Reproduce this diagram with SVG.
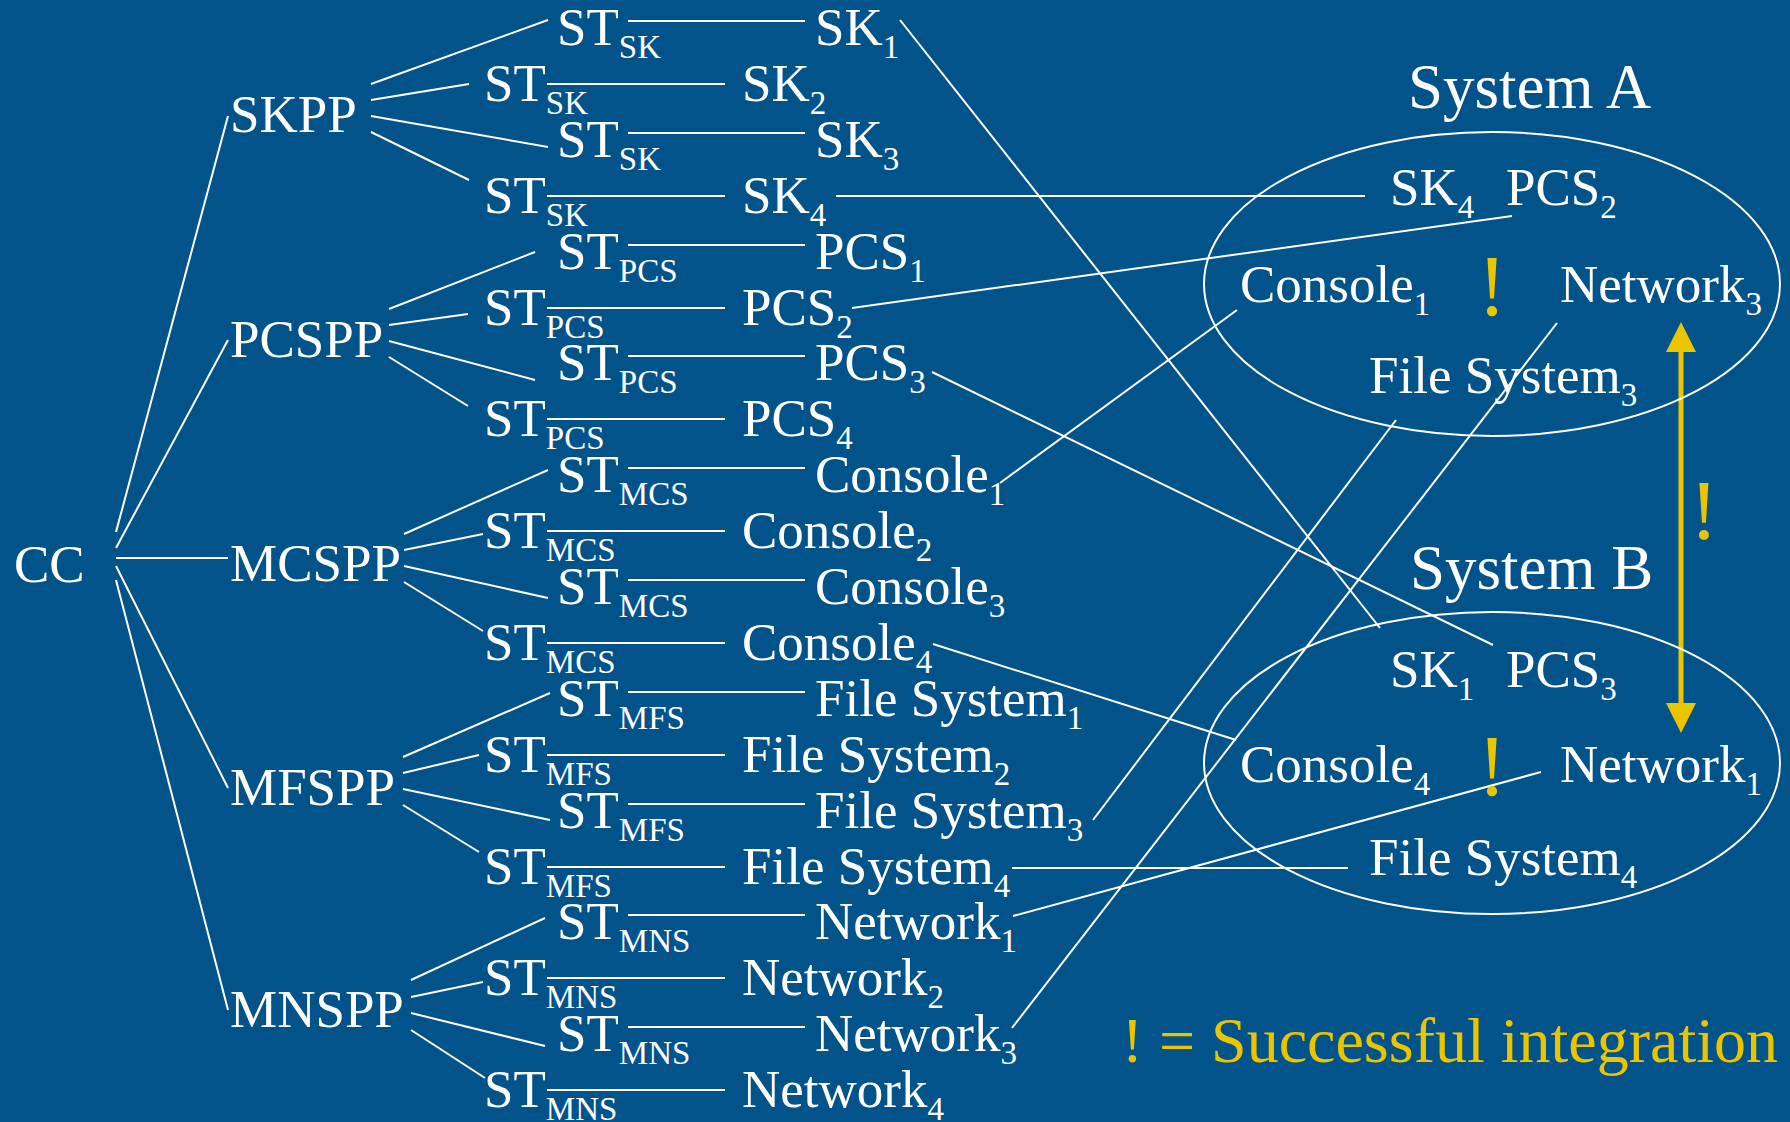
<svg xmlns="http://www.w3.org/2000/svg" width="1790" height="1122" viewBox="0 0 1790 1122">
  <style>
    text { font-family: "Liberation Serif", "Times New Roman", serif; fill: #ffffff; font-size: 53px; }
    .s { font-size: 33px; }
    .title { font-size: 63px; }
    .bang { fill: #ebc400; font-size: 86px; text-anchor: middle; }
    .legend { fill: #ebc400; font-size: 64px; text-anchor: end; }
    .wire { stroke: #ffffff; stroke-width: 2; fill: none; }
    .sys { stroke: #ffffff; stroke-width: 2; fill: none; }
    .gold { stroke: #ebc400; stroke-width: 5; fill: none; }
  </style>
  <defs>
    <marker id="head" viewBox="0 0 30 30" markerUnits="userSpaceOnUse" markerWidth="30" markerHeight="30" refX="2" refY="15" orient="auto-start-reverse">
      <path d="M0,0 L30,15 L0,30 z" fill="#ebc400"/>
    </marker>
  </defs>

  <rect x="0" y="0" width="1790" height="1122" fill="#02538a"/>

  <!-- connectors -->
  <g id="connectors" class="wire">
    <!-- CC to the five PP nodes -->
    <line x1="116" y1="532" x2="228" y2="116"/>
    <line x1="116" y1="548" x2="228" y2="340"/>
    <line x1="116" y1="558" x2="228" y2="558"/>
    <line x1="116" y1="566" x2="228" y2="788"/>
    <line x1="116" y1="580" x2="228" y2="1010"/>
    <!-- SKPP fan -->
    <line x1="371" y1="84" x2="548" y2="20"/>
    <line x1="371" y1="100" x2="469" y2="84"/>
    <line x1="371" y1="116" x2="548" y2="147"/>
    <line x1="371" y1="132" x2="469" y2="180"/>
    <!-- PCSPP fan -->
    <line x1="389" y1="309" x2="535" y2="252"/>
    <line x1="389" y1="325" x2="468" y2="314"/>
    <line x1="389" y1="341" x2="535" y2="380"/>
    <line x1="389" y1="357" x2="468" y2="406"/>
    <!-- MCSPP fan -->
    <line x1="404" y1="534" x2="548" y2="470"/>
    <line x1="404" y1="550" x2="483" y2="534"/>
    <line x1="404" y1="566" x2="548" y2="598"/>
    <line x1="404" y1="582" x2="483" y2="631"/>
    <!-- MFSPP fan -->
    <line x1="403" y1="757" x2="550" y2="693"/>
    <line x1="403" y1="773" x2="479" y2="755"/>
    <line x1="403" y1="789" x2="550" y2="820"/>
    <line x1="403" y1="805" x2="479" y2="852"/>
    <!-- MNSPP fan -->
    <line x1="411" y1="980" x2="545" y2="918"/>
    <line x1="411" y1="997" x2="483" y2="982"/>
    <line x1="411" y1="1013" x2="545" y2="1046"/>
    <line x1="411" y1="1030" x2="485" y2="1078"/>
    <!-- ST to component -->
    <line x1="628" y1="21" x2="805" y2="21"/>
    <line x1="547" y1="84" x2="725" y2="84"/>
    <line x1="628" y1="133" x2="805" y2="133"/>
    <line x1="547" y1="196" x2="725" y2="196"/>
    <line x1="628" y1="245" x2="805" y2="245"/>
    <line x1="547" y1="308" x2="725" y2="308"/>
    <line x1="628" y1="356" x2="805" y2="356"/>
    <line x1="547" y1="419" x2="725" y2="419"/>
    <line x1="628" y1="468" x2="805" y2="468"/>
    <line x1="547" y1="531" x2="725" y2="531"/>
    <line x1="628" y1="580" x2="805" y2="580"/>
    <line x1="547" y1="643" x2="725" y2="643"/>
    <line x1="628" y1="692" x2="805" y2="692"/>
    <line x1="547" y1="755" x2="725" y2="755"/>
    <line x1="628" y1="804" x2="805" y2="804"/>
    <line x1="547" y1="867" x2="725" y2="867"/>
    <line x1="628" y1="915" x2="805" y2="915"/>
    <line x1="547" y1="978" x2="725" y2="978"/>
    <line x1="628" y1="1027" x2="805" y2="1027"/>
    <line x1="547" y1="1090" x2="725" y2="1090"/>
    <!-- components placed into the systems -->
    <line x1="900" y1="20" x2="1380" y2="628"/>
    <line x1="836" y1="196" x2="1365" y2="196"/>
    <line x1="852" y1="308" x2="1512" y2="216"/>
    <line x1="932" y1="372" x2="1493" y2="645"/>
    <line x1="1000" y1="483" x2="1237" y2="310"/>
    <line x1="933" y1="644" x2="1236" y2="740"/>
    <line x1="1093" y1="820" x2="1396" y2="420"/>
    <line x1="1012" y1="868" x2="1348" y2="868"/>
    <line x1="1013" y1="916" x2="1541" y2="772"/>
    <line x1="1012" y1="1028" x2="1557" y2="323"/>
    <!-- integration arrow between the systems -->
    <line class="gold" x1="1681" y1="350" x2="1681" y2="705" marker-start="url(#head)" marker-end="url(#head)"/>
  </g>

  <!-- root -->
  <g id="cc"><text x="14" y="582">CC</text></g>

  <!-- PP nodes -->
  <g id="skpp"><text x="230" y="132">SKPP</text></g>
  <g id="pcspp"><text x="230" y="357">PCSPP</text></g>
  <g id="mcspp"><text x="230" y="581">MCSPP</text></g>
  <g id="mfspp"><text x="230" y="805">MFSPP</text></g>
  <g id="mnspp"><text x="230" y="1027">MNSPP</text></g>

  <!-- ST nodes -->
  <g id="st-sk-1"><text x="557" y="45">ST<tspan class="s" dy="13">SK</tspan></text></g>
  <g id="st-sk-2"><text x="484" y="101">ST<tspan class="s" dy="13">SK</tspan></text></g>
  <g id="st-sk-3"><text x="557" y="157">ST<tspan class="s" dy="13">SK</tspan></text></g>
  <g id="st-sk-4"><text x="484" y="213">ST<tspan class="s" dy="13">SK</tspan></text></g>
  <g id="st-pcs-1"><text x="557" y="269">ST<tspan class="s" dy="13">PCS</tspan></text></g>
  <g id="st-pcs-2"><text x="484" y="325">ST<tspan class="s" dy="13">PCS</tspan></text></g>
  <g id="st-pcs-3"><text x="557" y="380">ST<tspan class="s" dy="13">PCS</tspan></text></g>
  <g id="st-pcs-4"><text x="484" y="436">ST<tspan class="s" dy="13">PCS</tspan></text></g>
  <g id="st-mcs-1"><text x="557" y="492">ST<tspan class="s" dy="13">MCS</tspan></text></g>
  <g id="st-mcs-2"><text x="484" y="548">ST<tspan class="s" dy="13">MCS</tspan></text></g>
  <g id="st-mcs-3"><text x="557" y="604">ST<tspan class="s" dy="13">MCS</tspan></text></g>
  <g id="st-mcs-4"><text x="484" y="660">ST<tspan class="s" dy="13">MCS</tspan></text></g>
  <g id="st-mfs-1"><text x="557" y="716">ST<tspan class="s" dy="13">MFS</tspan></text></g>
  <g id="st-mfs-2"><text x="484" y="772">ST<tspan class="s" dy="13">MFS</tspan></text></g>
  <g id="st-mfs-3"><text x="557" y="828">ST<tspan class="s" dy="13">MFS</tspan></text></g>
  <g id="st-mfs-4"><text x="484" y="884">ST<tspan class="s" dy="13">MFS</tspan></text></g>
  <g id="st-mns-1"><text x="557" y="939">ST<tspan class="s" dy="13">MNS</tspan></text></g>
  <g id="st-mns-2"><text x="484" y="995">ST<tspan class="s" dy="13">MNS</tspan></text></g>
  <g id="st-mns-3"><text x="557" y="1051">ST<tspan class="s" dy="13">MNS</tspan></text></g>
  <g id="st-mns-4"><text x="484" y="1107">ST<tspan class="s" dy="13">MNS</tspan></text></g>

  <!-- component nodes -->
  <g id="sk-1"><text x="815" y="45">SK<tspan class="s" dy="13">1</tspan></text></g>
  <g id="sk-2"><text x="742" y="101">SK<tspan class="s" dy="13">2</tspan></text></g>
  <g id="sk-3"><text x="815" y="157">SK<tspan class="s" dy="13">3</tspan></text></g>
  <g id="sk-4"><text x="742" y="213">SK<tspan class="s" dy="13">4</tspan></text></g>
  <g id="pcs-1"><text x="815" y="269">PCS<tspan class="s" dy="13">1</tspan></text></g>
  <g id="pcs-2"><text x="742" y="325">PCS<tspan class="s" dy="13">2</tspan></text></g>
  <g id="pcs-3"><text x="815" y="380">PCS<tspan class="s" dy="13">3</tspan></text></g>
  <g id="pcs-4"><text x="742" y="436">PCS<tspan class="s" dy="13">4</tspan></text></g>
  <g id="console-1"><text x="815" y="492">Console<tspan class="s" dy="13">1</tspan></text></g>
  <g id="console-2"><text x="742" y="548">Console<tspan class="s" dy="13">2</tspan></text></g>
  <g id="console-3"><text x="815" y="604">Console<tspan class="s" dy="13">3</tspan></text></g>
  <g id="console-4"><text x="742" y="660">Console<tspan class="s" dy="13">4</tspan></text></g>
  <g id="fs-1"><text x="815" y="716">File System<tspan class="s" dy="13">1</tspan></text></g>
  <g id="fs-2"><text x="742" y="772">File System<tspan class="s" dy="13">2</tspan></text></g>
  <g id="fs-3"><text x="815" y="828">File System<tspan class="s" dy="13">3</tspan></text></g>
  <g id="fs-4"><text x="742" y="884">File System<tspan class="s" dy="13">4</tspan></text></g>
  <g id="net-1"><text x="815" y="939">Network<tspan class="s" dy="13">1</tspan></text></g>
  <g id="net-2"><text x="742" y="995">Network<tspan class="s" dy="13">2</tspan></text></g>
  <g id="net-3"><text x="815" y="1051">Network<tspan class="s" dy="13">3</tspan></text></g>
  <g id="net-4"><text x="742" y="1107">Network<tspan class="s" dy="13">4</tspan></text></g>

  <!-- System A -->
  <g id="system-a">
    <text class="title" x="1408" y="108">System A</text>
    <ellipse class="sys" cx="1492" cy="284" rx="288" ry="152"/>
    <text x="1390" y="205">SK<tspan class="s" dy="13">4</tspan></text>
    <text x="1506" y="205">PCS<tspan class="s" dy="13">2</tspan></text>
    <text x="1240" y="302">Console<tspan class="s" dy="13">1</tspan></text>
    <text class="bang" x="1492" y="315">!</text>
    <text x="1560" y="302">Network<tspan class="s" dy="13">3</tspan></text>
    <text x="1369" y="393">File System<tspan class="s" dy="13">3</tspan></text>
  </g>

  <!-- System B -->
  <g id="system-b">
    <text class="title" x="1410" y="589">System B</text>
    <ellipse class="sys" cx="1492" cy="763" rx="288" ry="151"/>
    <text x="1390" y="687">SK<tspan class="s" dy="13">1</tspan></text>
    <text x="1506" y="687">PCS<tspan class="s" dy="13">3</tspan></text>
    <text x="1240" y="782">Console<tspan class="s" dy="13">4</tspan></text>
    <text class="bang" x="1492" y="795">!</text>
    <text x="1560" y="782">Network<tspan class="s" dy="13">1</tspan></text>
    <text x="1369" y="875">File System<tspan class="s" dy="13">4</tspan></text>
  </g>

  <!-- integration mark on the arrow -->
  <g id="arrow-mark"><text class="bang" x="1704" y="539" style="font-size:84px">!</text></g>

  <!-- legend -->
  <g id="legend"><text class="legend" x="1778" y="1062">! = Successful integration</text></g>
</svg>
